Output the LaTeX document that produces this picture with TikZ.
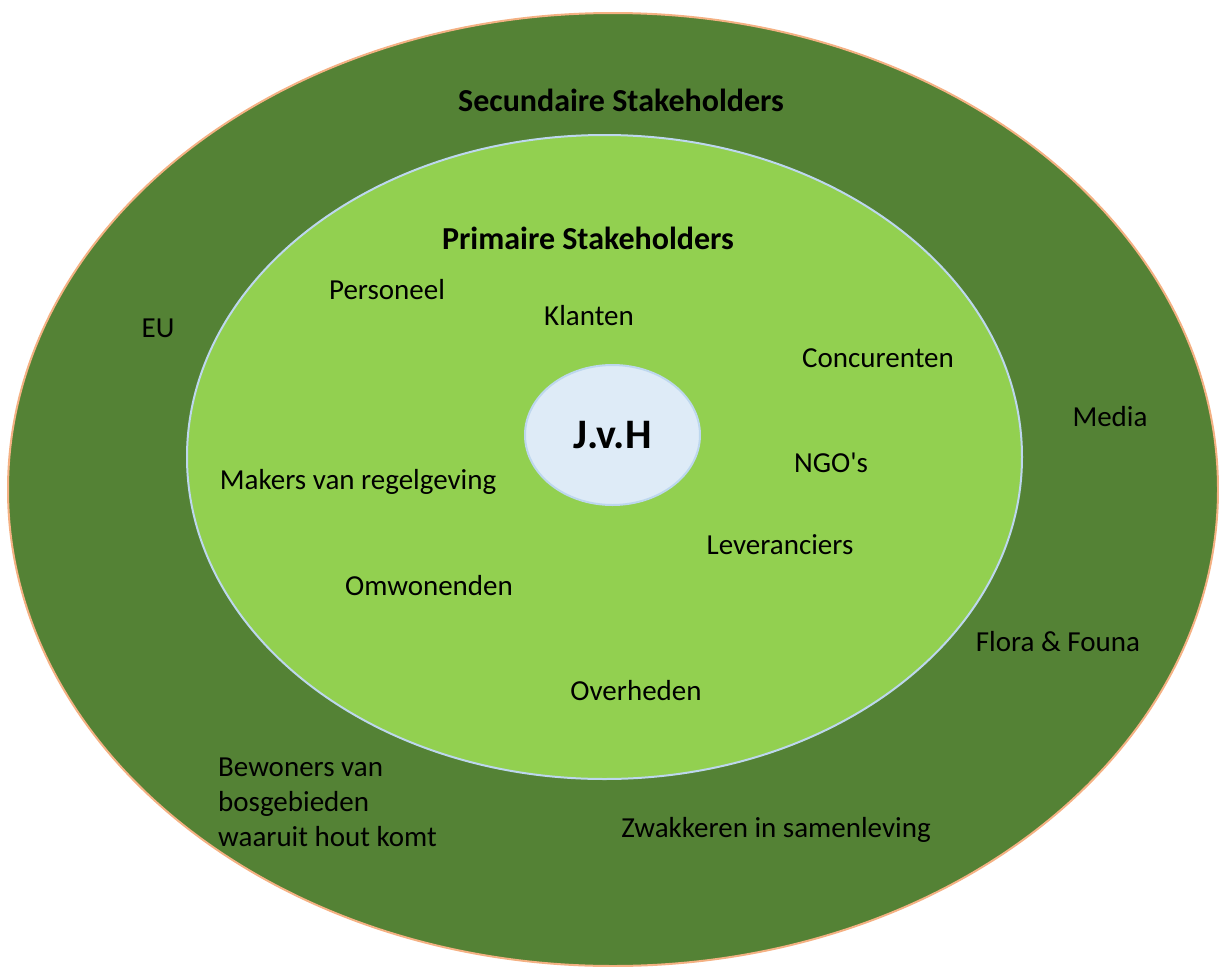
\documentclass[tikz,border=0pt]{standalone}
\usepackage{fontspec}
\setmainfont{Carlito}
\usetikzlibrary{shapes.geometric}
\definecolor{donkergroen}{HTML}{548235}
\definecolor{lichtgroen}{HTML}{92D050}
\definecolor{oranjerand}{HTML}{F4B183}
\definecolor{blauwrand}{HTML}{BDD7EE}
\definecolor{lichtblauw}{HTML}{DEEBF7}
\tikzset{x=1pt, y=-1pt,
  ring/.style={ellipse, inner sep=0pt, line width=2pt},
  label/.style={font=\fontsize{29}{35}\selectfont, text=black, inner sep=0pt},
  kop/.style={font=\fontsize{32}{38}\selectfont\bfseries, text=black, inner sep=0pt}}

\begin{document}
\begin{tikzpicture}
  \useasboundingbox (0,0) rectangle (1219,967);
  \node (buiten) [ring, draw=oranjerand, fill=donkergroen, minimum width=1210pt, minimum height=953pt] at (613,489.5) {};
  \node (binnen) [ring, draw=blauwrand, fill=lichtgroen, minimum width=835pt, minimum height=644pt] at (604.5,457) {};
  \node (jvh) [ring, draw=blauwrand, fill=lichtblauw, minimum width=175pt, minimum height=140pt, font=\fontsize{42}{48}\selectfont\bfseries] at (612.5,435) {J.v.H};

  % secundair
  \node (sec) [kop] at (621,100) {Secundaire Stakeholders};
  \node (eu) [label] at (158,328) {EU};
  \node (media) [label] at (1110,417) {Media};
  \node (flora) [label] at (1058,642) {Flora \& Founa};
  \node (bewoners) [label, align=left, anchor=north west] at (218,758) {Bewoners van\\bosgebieden\\waaruit hout komt};
  \node (zwak) [label] at (776,830) {Zwakkeren in samenleving};

  % primair
  \node (prim) [kop] at (588,238) {Primaire Stakeholders};
  \node (personeel) [label] at (387,290) {Personeel};
  \node (klanten) [label] at (589,316) {Klanten};
  \node (concur) [label] at (878,358) {Concurenten};
  \node (makers) [label] at (358,482) {Makers van regelgeving};
  \node (ngo) [label] at (831,463) {NGO\textquotesingle s};
  \node (lever) [label] at (780,545) {Leveranciers};
  \node (omw) [label] at (429,586) {Omwonenden};
  \node (overheden) [label] at (636,691) {Overheden};
\end{tikzpicture}
\end{document}
